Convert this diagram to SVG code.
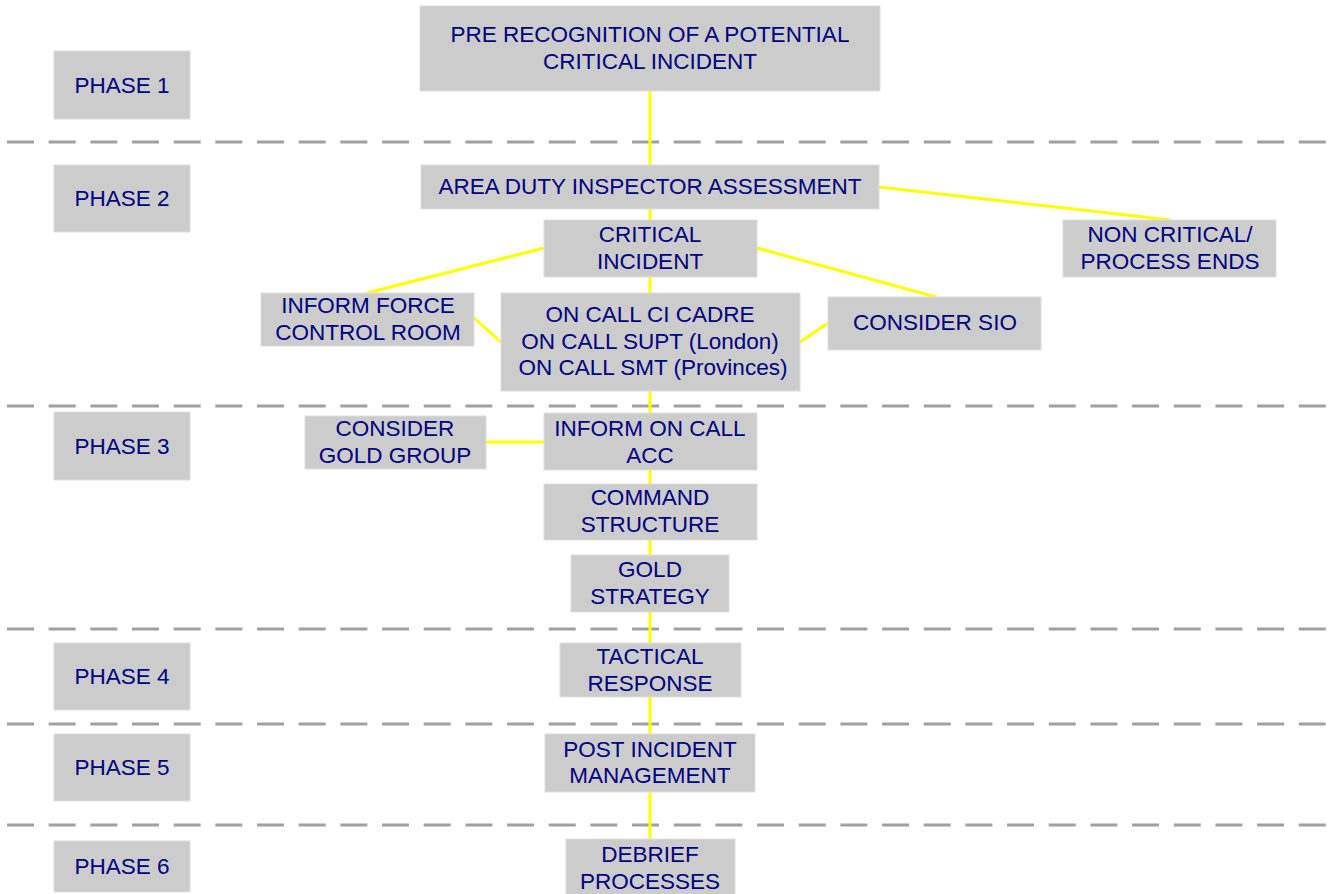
<svg xmlns="http://www.w3.org/2000/svg" width="1332" height="894" viewBox="0 0 1332 894">
<style>
.box{fill:#cccccc;stroke:#dedede;stroke-width:1}
.t{font-family:"Liberation Sans",Arial,sans-serif;font-size:22.5px;fill:#000080;text-anchor:middle}
.sep{stroke:#a0a0a0;stroke-width:3;stroke-dasharray:27 14.67;fill:none}
.c{stroke:#ffff00;stroke-width:3;fill:none}
</style>
<rect width="1332" height="894" fill="#ffffff"/>
<g id="separators">
<line class="sep" x1="7" y1="142" x2="1326" y2="142"/>
<line class="sep" x1="7" y1="406" x2="1326" y2="406"/>
<line class="sep" x1="7" y1="629" x2="1326" y2="629"/>
<line class="sep" x1="7" y1="724" x2="1326" y2="724"/>
<line class="sep" x1="7" y1="825" x2="1326" y2="825"/>
</g>
<g id="connectors">
<line class="c" x1="650" y1="91" x2="650" y2="165"/>
<line class="c" x1="650" y1="209" x2="650" y2="220"/>
<line class="c" x1="650" y1="277" x2="650" y2="293"/>
<line class="c" x1="650" y1="391" x2="650" y2="413"/>
<line class="c" x1="650" y1="470" x2="650" y2="484"/>
<line class="c" x1="650" y1="540" x2="650" y2="555"/>
<line class="c" x1="650" y1="611" x2="650" y2="643"/>
<line class="c" x1="650" y1="697" x2="650" y2="734"/>
<line class="c" x1="650" y1="792" x2="650" y2="839"/>
<line class="c" x1="879" y1="187" x2="1170" y2="220"/>
<line class="c" x1="544" y1="248" x2="367" y2="293"/>
<line class="c" x1="757" y1="248" x2="936" y2="297"/>
<line class="c" x1="474" y1="318" x2="501" y2="342"/>
<line class="c" x1="800" y1="342" x2="828" y2="323"/>
<line class="c" x1="486" y1="442" x2="544" y2="442"/>
</g>
<g id="phase1"><rect class="box" x="54" y="51" width="136" height="68"/><text class="t" x="122" y="92.5">PHASE 1</text></g>
<g id="phase2"><rect class="box" x="54" y="165" width="136" height="67"/><text class="t" x="122" y="206">PHASE 2</text></g>
<g id="phase3"><rect class="box" x="54" y="412" width="136" height="68"/><text class="t" x="122" y="453.5">PHASE 3</text></g>
<g id="phase4"><rect class="box" x="54" y="643" width="136" height="67"/><text class="t" x="122" y="684">PHASE 4</text></g>
<g id="phase5"><rect class="box" x="54" y="734" width="136" height="67"/><text class="t" x="122" y="775">PHASE 5</text></g>
<g id="phase6"><rect class="box" x="54" y="841" width="136" height="51"/><text class="t" x="122" y="874">PHASE 6</text></g>
<g id="pre-recognition"><rect class="box" x="420" y="6" width="460" height="85"/><text class="t" x="650" y="42">PRE RECOGNITION OF A POTENTIAL</text><text class="t" x="650" y="69">CRITICAL INCIDENT</text></g>
<g id="area-duty"><rect class="box" x="421" y="165" width="458" height="44"/><text class="t" x="650" y="194">AREA DUTY INSPECTOR ASSESSMENT</text></g>
<g id="non-critical"><rect class="box" x="1063" y="220" width="213" height="57"/><text class="t" x="1170" y="242">NON CRITICAL/</text><text class="t" x="1170" y="269">PROCESS ENDS</text></g>
<g id="critical-incident"><rect class="box" x="544" y="220" width="213" height="57"/><text class="t" x="650" y="242">CRITICAL</text><text class="t" x="650" y="269">INCIDENT</text></g>
<g id="inform-force"><rect class="box" x="261" y="293" width="213" height="53"/><text class="t" x="368" y="313">INFORM FORCE</text><text class="t" x="368" y="340">CONTROL ROOM</text></g>
<g id="on-call"><rect class="box" x="501" y="293" width="299" height="98"/><text class="t" x="650" y="322">ON CALL CI CADRE</text><text class="t" x="650" y="349">ON CALL SUPT (London)</text><text class="t" x="653" y="375">ON CALL SMT (Provinces)</text></g>
<g id="consider-sio"><rect class="box" x="828" y="297" width="213" height="53"/><text class="t" x="935" y="330">CONSIDER SIO</text></g>
<g id="consider-gold"><rect class="box" x="305" y="416" width="181" height="53"/><text class="t" x="395" y="436">CONSIDER</text><text class="t" x="395" y="462.5">GOLD GROUP</text></g>
<g id="inform-acc"><rect class="box" x="544" y="413" width="213" height="57"/><text class="t" x="650" y="436">INFORM ON CALL</text><text class="t" x="650" y="462.5">ACC</text></g>
<g id="command-structure"><rect class="box" x="544" y="484" width="213" height="56"/><text class="t" x="650" y="505">COMMAND</text><text class="t" x="650" y="531.5">STRUCTURE</text></g>
<g id="gold-strategy"><rect class="box" x="571" y="555" width="158" height="57"/><text class="t" x="650" y="577">GOLD</text><text class="t" x="650" y="603.5">STRATEGY</text></g>
<g id="tactical-response"><rect class="box" x="560" y="643" width="181" height="54"/><text class="t" x="650" y="664">TACTICAL</text><text class="t" x="650" y="690.5">RESPONSE</text></g>
<g id="post-incident"><rect class="box" x="545" y="734" width="210" height="58"/><text class="t" x="650" y="756.5">POST INCIDENT</text><text class="t" x="650" y="783">MANAGEMENT</text></g>
<g id="debrief"><rect class="box" x="566" y="839" width="169" height="60"/><text class="t" x="650" y="862">DEBRIEF</text><text class="t" x="650" y="889">PROCESSES</text></g>
</svg>
